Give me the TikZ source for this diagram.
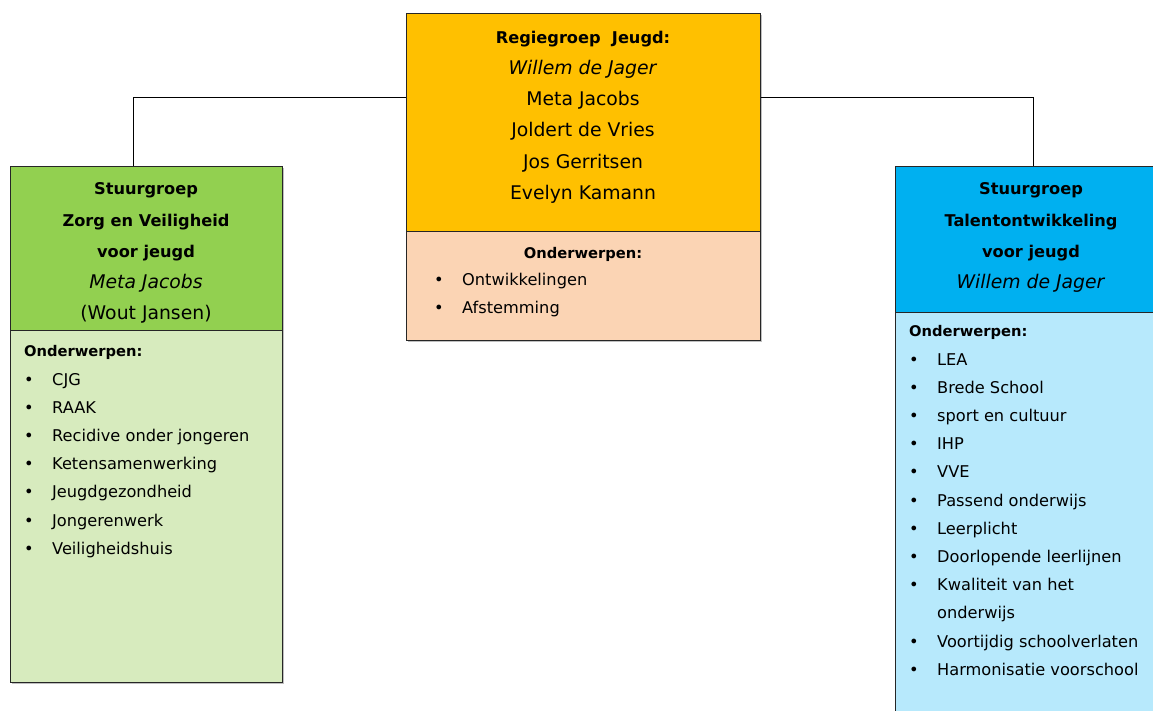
\documentclass[tikz,border=0pt]{standalone}
\usepackage{fontspec}
\setmainfont{DejaVu Sans}
\usetikzlibrary{shadows}

\definecolor{regieoranje}{HTML}{FFC000}
\definecolor{regiezalm}{HTML}{FBD4B4}
\definecolor{zorggroen}{HTML}{92D050}
\definecolor{zorglicht}{HTML}{D7EBBE}
\definecolor{talentblauw}{HTML}{00B0F0}
\definecolor{talentlicht}{HTML}{B7E9FC}

\newcommand{\vet}[1]{{\fontsize{16.2}{31.2}\selectfont\bfseries #1}}
\newcommand{\punt}[1]{\makebox[28pt][l]{\textbullet}#1}
\newcommand{\lijstkop}{{\fontsize{14.7}{28.2}\selectfont\bfseries Onderwerpen:}}

\tikzset{
  vak/.style={draw=black!85, line width=0.9pt, inner sep=0pt, anchor=north west,
    drop shadow={shadow xshift=2pt, shadow yshift=-2pt, opacity=0.25, fill=black}},
  kop/.style={anchor=north, align=center, inner sep=0pt,
    font=\fontsize{18.8}{31.2}\selectfont},
  lijst/.style={anchor=north west, align=left, inner sep=0pt,
    font=\fontsize{16.2}{28.2}\selectfont},
}

\begin{document}
\begin{tikzpicture}[x=1pt,y=-1pt]
\clip (0,0) rectangle (1153,710);
\fill[white] (0,0) rectangle (1153,710);

% regiegroep
\node[vak, fill=regieoranje, minimum width=354, minimum height=218] (regie) at (406,13) {};
\node[vak, fill=regiezalm, minimum width=354, minimum height=109] (regieond) at (406,231) {};
\node[kop] (regietekst) at (583,30.7) {\vet{Regiegroep\ \ Jeugd:}\\ \textit{Willem de Jager}\\ Meta Jacobs\\
  Joldert de Vries\\ Jos Gerritsen\\ Evelyn Kamann};
\node[lijst, anchor=north] (regiekop) at (583,247) {\lijstkop};
\node[lijst] (regielijst) at (434,272.7) {\punt{Ontwikkelingen}\\ \punt{Afstemming}};

% stuurgroep zorg
\node[vak, fill=zorggroen, minimum width=272, minimum height=164] (zorg) at (10,166) {};
\node[vak, fill=zorglicht, minimum width=272, minimum height=352] (zorgond) at (10,330) {};
\node[kop] (zorgtekst) at (146,182.7) {\vet{Stuurgroep}\\ \vet{Zorg en Veiligheid}\\ \vet{voor jeugd}\\
  \textit{Meta Jacobs}\\ (Wout Jansen)};
\node[lijst] (zorglijst) at (24,345.6) {\lijstkop\\ \punt{CJG}\\ \punt{RAAK}\\
  \punt{Recidive onder jongeren}\\ \punt{Ketensamenwerking}\\ \punt{Jeugdgezondheid}\\
  \punt{Jongerenwerk}\\ \punt{Veiligheidshuis}};

% stuurgroep talent
\node[vak, fill=talentblauw, minimum width=272, minimum height=146] (talent) at (895,166) {};
\node[vak, fill=talentlicht, minimum width=272, minimum height=420] (talentond) at (895,312) {};
\node[kop] (talenttekst) at (1031,182.7) {\vet{Stuurgroep}\\ \vet{Talentontwikkeling}\\ \vet{voor jeugd}\\
  \textit{Willem de Jager}};
\node[lijst] (talentlijst) at (909,325.6) {\lijstkop\\ \punt{LEA}\\ \punt{Brede School}\\
  \punt{sport en cultuur}\\ \punt{IHP}\\ \punt{VVE}\\ \punt{Passend onderwijs}\\ \punt{Leerplicht}\\
  \punt{Doorlopende leerlijnen}\\ \punt{Kwaliteit van het}\\ \hspace*{28pt}onderwijs\\
  \punt{Voortijdig schoolverlaten}\\ \punt{Harmonisatie voorschool}};

% verbindingen
\coordinate (lknik) at (133,97);
\coordinate (rknik) at (1033,97);
\draw[line width=0.9pt] (zorg.north -| lknik) -- (lknik) -- (lknik -| regie.west);
\draw[line width=0.9pt] (talent.north -| rknik) -- (rknik) -- (rknik -| regie.east);
\end{tikzpicture}
\end{document}
